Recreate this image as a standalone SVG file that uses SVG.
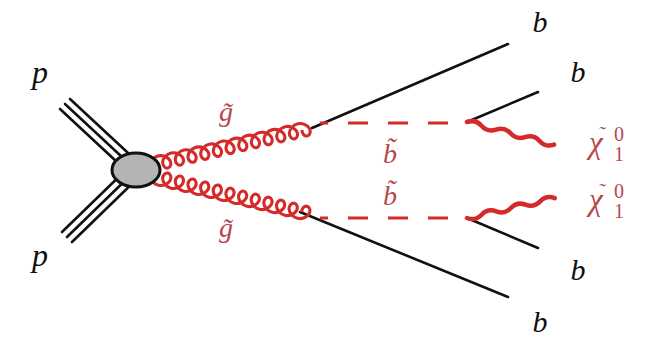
<svg xmlns="http://www.w3.org/2000/svg" width="649" height="337" viewBox="0 0 649 337">
<style>
.line{fill:none;stroke:#111;stroke-width:2.6;stroke-linecap:round}
.glu{fill:none;stroke:#d42a2a;stroke-width:3.1;stroke-linejoin:round}
.wavy{fill:none;stroke:#d42a2a;stroke-width:4.5;stroke-linecap:round}
.dash{fill:none;stroke:#d42a2a;stroke-width:2.8;stroke-dasharray:20 20;stroke-dashoffset:12}
text{font-family:'Liberation Serif','DejaVu Serif',serif}
.lbl{font-style:italic;fill:#111}
.red{fill:#b8474c}
.sub{font-style:normal;fill:#b8474c}
</style>
<defs>
  <path id="g13" d="M0,0 c1.08,-3.67 5.5,-7 10.25,-7 c4.75,0 9.17,3.33 10.25,7 c1.08,3.67 -1.17,7 -3.75,7 c-2.58,0 -4.83,-3.33 -3.75,-7 c1.08,-3.67 5.5,-7 10.25,-7 c4.75,0 9.17,3.33 10.25,7 c1.08,3.67 -1.17,7 -3.75,7 c-2.58,0 -4.83,-3.33 -3.75,-7 c1.08,-3.67 5.5,-7 10.25,-7 c4.75,0 9.17,3.33 10.25,7 c1.08,3.67 -1.17,7 -3.75,7 c-2.58,0 -4.83,-3.33 -3.75,-7 c1.08,-3.67 5.5,-7 10.25,-7 c4.75,0 9.17,3.33 10.25,7 c1.08,3.67 -1.17,7 -3.75,7 c-2.58,0 -4.83,-3.33 -3.75,-7 c1.08,-3.67 5.5,-7 10.25,-7 c4.75,0 9.17,3.33 10.25,7 c1.08,3.67 -1.17,7 -3.75,7 c-2.58,0 -4.83,-3.33 -3.75,-7 c1.08,-3.67 5.5,-7 10.25,-7 c4.75,0 9.17,3.33 10.25,7 c1.08,3.67 -1.17,7 -3.75,7 c-2.58,0 -4.83,-3.33 -3.75,-7 c1.08,-3.67 5.5,-7 10.25,-7 c4.75,0 9.17,3.33 10.25,7 c1.08,3.67 -1.17,7 -3.75,7 c-2.58,0 -4.83,-3.33 -3.75,-7 c1.08,-3.67 5.5,-7 10.25,-7 c4.75,0 9.17,3.33 10.25,7 c1.08,3.67 -1.17,7 -3.75,7 c-2.58,0 -4.83,-3.33 -3.75,-7 c1.08,-3.67 5.5,-7 10.25,-7 c4.75,0 9.17,3.33 10.25,7 c1.08,3.67 -1.17,7 -3.75,7 c-2.58,0 -4.83,-3.33 -3.75,-7 c1.08,-3.67 5.5,-7 10.25,-7 c4.75,0 9.17,3.33 10.25,7 c1.08,3.67 -1.17,7 -3.75,7 c-2.58,0 -4.83,-3.33 -3.75,-7 c1.08,-3.67 5.5,-7 10.25,-7 c4.75,0 9.17,3.33 10.25,7 c1.08,3.67 -1.17,7 -3.75,7 c-2.58,0 -4.83,-3.33 -3.75,-7 c1.08,-3.67 5.5,-7 10.25,-7 c4.75,0 9.17,3.33 10.25,7 c1.08,3.67 -1.17,7 -3.75,7 c-2.58,0 -4.83,-3.33 -3.75,-7"/>
</defs>
<rect width="649" height="337" fill="#fff"/>
<g id="connectors">
  <g id="proton-upper">
    <line class="line" x1="60" y1="109" x2="131" y2="175"/>
    <line class="line" x1="65" y1="104" x2="136" y2="170"/>
    <line class="line" x1="70" y1="99" x2="141" y2="165"/>
  </g>
  <g id="proton-lower">
    <line class="line" x1="62" y1="232" x2="131" y2="165"/>
    <line class="line" x1="67" y1="237" x2="136" y2="170"/>
    <line class="line" x1="72" y1="242" x2="141" y2="175"/>
  </g>
  <line class="line" x1="312" y1="128" x2="508" y2="44"/>
  <line class="line" x1="300" y1="212" x2="508" y2="297"/>
  <line class="line" x1="467" y1="122" x2="538" y2="92"/>
  <line class="line" x1="467" y1="218" x2="538" y2="248"/>
  <line class="dash" x1="320" y1="123" x2="468" y2="123"/>
  <line class="dash" x1="320" y1="218" x2="468" y2="218"/>
  <g transform="translate(150,165) rotate(-12.97)">
    <use class="glu" href="#g13"/>
  </g>
  <g transform="translate(150,176) rotate(13.4) scale(1,-1)">
    <use class="glu" href="#g13"/>
  </g>
  <path class="wavy" transform="translate(467,122) rotate(14.6)" d="M0,0 q7.5,-5 15,0 t15,0 t15,0 t15,0 t15,0 t15,0"/>
  <path class="wavy" transform="translate(467,218) rotate(-12.8)" d="M0,0 q7.5,5 15,0 t15,0 t15,0 t15,0 t15,0 t15,0"/>
</g>
<g id="blob">
  <ellipse cx="136" cy="170" rx="24" ry="17" fill="#b4b4b4" stroke="#111" stroke-width="3"/>
</g>
<g id="label-p-upper"><text class="lbl" x="40" y="83" font-size="32" text-anchor="middle">p</text></g>
<g id="label-p-lower"><text class="lbl" x="40" y="266" font-size="32" text-anchor="middle">p</text></g>
<g id="label-gluino-upper"><text class="lbl red" x="226" y="121" font-size="28" text-anchor="middle">g̃</text></g>
<g id="label-gluino-lower"><text class="lbl red" x="226" y="237" font-size="28" text-anchor="middle">g̃</text></g>
<g id="label-sbottom-upper"><text class="lbl red" x="390" y="163" font-size="28" text-anchor="middle">b̃</text></g>
<g id="label-sbottom-lower"><text class="lbl red" x="390" y="205" font-size="28" text-anchor="middle">b̃</text></g>
<g id="label-b1"><text class="lbl" x="540" y="32" font-size="30" text-anchor="middle">b</text></g>
<g id="label-b2"><text class="lbl" x="578" y="82" font-size="30" text-anchor="middle">b</text></g>
<g id="label-b3"><text class="lbl" x="578" y="280" font-size="30" text-anchor="middle">b</text></g>
<g id="label-b4"><text class="lbl" x="540" y="332" font-size="30" text-anchor="middle">b</text></g>
<g id="label-chi-upper">
  <text class="lbl red" x="589" y="153" font-size="31">χ<tspan x="598" y="141" font-size="20">˜</tspan></text>
  <text class="sub" x="614" y="141" font-size="20">0</text>
  <text class="sub" x="614" y="161" font-size="20">1</text>
</g>
<g id="label-chi-lower">
  <text class="lbl red" x="589" y="210" font-size="31">χ<tspan x="598" y="198" font-size="20">˜</tspan></text>
  <text class="sub" x="614" y="198" font-size="20">0</text>
  <text class="sub" x="614" y="218" font-size="20">1</text>
</g>
</svg>
